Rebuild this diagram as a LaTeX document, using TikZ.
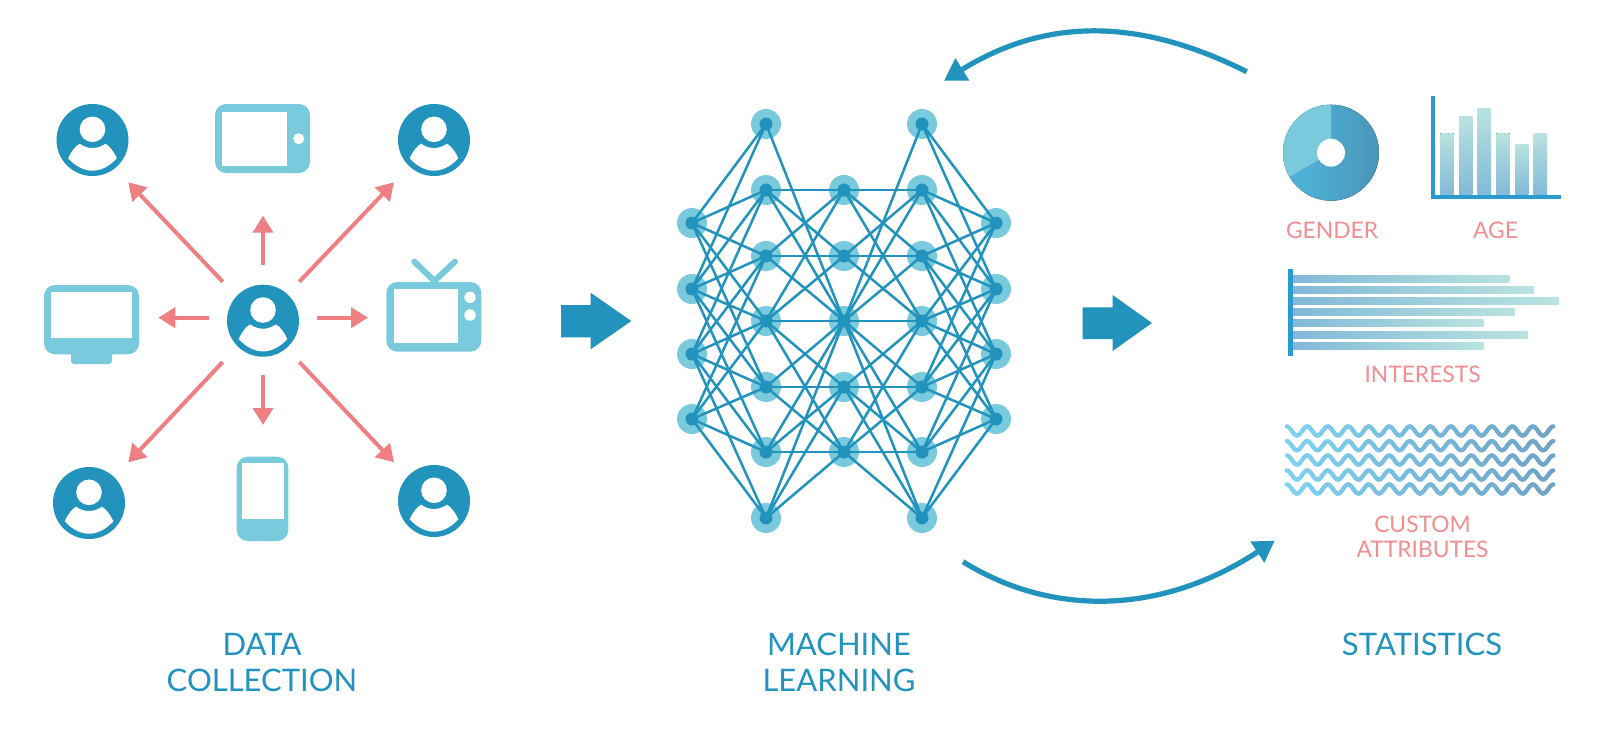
\documentclass[tikz,border=0pt]{standalone}
\usepackage{fontspec}
\setmainfont{Lato}
\usetikzlibrary{arrows.meta}
\definecolor{deep}{HTML}{2293BC}
\definecolor{soft}{HTML}{7ACADD}
\definecolor{pinkline}{HTML}{EE8083}
\definecolor{pinktext}{HTML}{F28E91}
\definecolor{axisblue}{HTML}{2A9BD0}
\definecolor{barlight}{HTML}{B8E3DF}
\definecolor{bardark}{HTML}{82B9D8}
\definecolor{waveleft}{HTML}{80D2F0}
\definecolor{waveright}{HTML}{6FA3C6}
\definecolor{donutleft}{HTML}{4DB8DC}
\definecolor{donutright}{HTML}{4A95B8}
\tikzset{
  x=0.5pt,y=-0.5pt,
  halo/.style={circle,fill=soft,inner sep=0pt,minimum size=15pt},
  core/.style={circle,fill=deep,inner sep=0pt,minimum size=6.5pt},
  link/.style={draw=deep,line width=1.25pt},
  pinkarrow/.style={draw=pinkline,line width=2pt,-{Triangle[length=8.5pt,width=10pt,fill=pinkline]}},
  bigcurve/.style={draw=deep,line width=2.6pt},
  mainlabel/.style={text=deep,align=center,inner sep=0pt,font=\fontsize{15.5}{18}\selectfont},
  sublabel/.style={text=pinktext,align=center,inner sep=0pt,font=\fontsize{11.4}{12.5}\selectfont},
  device/.style={fill=soft,rounded corners=5.5pt},
  screen/.style={fill=white},
  pics/person/.style={code={
    \fill[deep] (0,0) circle[radius=36];
    \fill[white] (0,-10.7) circle[radius=12.8];
    \fill[white] (-24.3,18.3) .. controls (-21,11) and (-17,6) .. (-13,3.7)
       .. controls (-8,7) and (-4,8) .. (0,8)
       .. controls (4,8) and (8,7) .. (13,3.7)
       .. controls (17,6) and (21,11) .. (24.3,18.3)
       .. controls (17,26.5) and (8,30.7) .. (0,30.7)
       .. controls (-8,30.7) and (-17,26.5) .. (-24.3,18.3) -- cycle;
  }},
}
\begin{document}
\begin{tikzpicture}
\useasboundingbox (0,0) rectangle (1600,728);
\fill[white] (0,0) rectangle (1600,728);

% people
\pic at (92.5,140) {person};
\pic at (434,140) {person};
\pic at (263,320.7) {person};
\pic at (89,503) {person};
\pic at (434,501) {person};

% tablet
\fill[device] (215,104) rectangle (310,173);
\fill[screen] (222.3,111.7) rectangle (287,166);
\fill[white] (298.7,138.7) circle[radius=5.5];
% monitor
\fill[soft,rounded corners=1.5pt] (71,345) rectangle (112,364);
\fill[device] (44,285) rectangle (139,354.3);
\fill[screen] (51.3,291.7) rectangle (131.7,338.3);
% tv
\draw[soft,line width=3pt,line cap=round] (414.3,261.7) -- (434.3,281) -- (455,261.7);
\fill[device] (386.3,282) rectangle (481.3,351.7);
\fill[screen] (393.7,289.3) rectangle (458.3,343.3);
\fill[white] (470,297.3) circle[radius=5.7];
\fill[white] (470,315) circle[radius=5.7];
% phone
\fill[device] (236.7,456.7) rectangle (288.3,541);
\fill[screen] (242,462.7) rectangle (283.7,518.7);

% pink arrows
\coordinate (hubUL) at (222.7,281.7); \coordinate (toUL) at (128.3,182.3);
\coordinate (hubU) at (263,265);      \coordinate (toU) at (263,215.7);
\coordinate (hubUR) at (299.3,281.7); \coordinate (toUR) at (394,182.3);
\coordinate (hubL) at (208.7,317.7);  \coordinate (toL) at (158.3,317.7);
\coordinate (hubR) at (317.3,317.7);  \coordinate (toR) at (368,317.7);
\coordinate (hubLL) at (222.7,362);   \coordinate (toLL) at (128.3,462.3);
\coordinate (hubD) at (263,374.7);    \coordinate (toD) at (263,425);
\coordinate (hubLR) at (299.3,362);   \coordinate (toLR) at (394,462.3);
\foreach \n in {UL,U,UR,L,R,LL,D,LR} \draw[pinkarrow] (hub\n) -- (to\n);

% big block arrows
\fill[deep] (561,305) -- (590.6,305) -- (590.6,292.7) -- (631.3,321) -- (590.6,349.3) -- (590.6,337.3) -- (561,337.3) -- cycle;
\fill[deep] (1082.5,307.3) -- (1112.6,307.3) -- (1112.6,295) -- (1152,323) -- (1112.6,351) -- (1112.6,339) -- (1082.5,339) -- cycle;

% network nodes
\foreach \i/\yy in {0/223,1/289,2/354,3/419} {
  \node[halo] (A\i) at (692,\yy) {};
  \node[halo] (E\i) at (996,\yy) {};
}
\foreach \i/\yy in {0/124,1/190,2/256,3/321,4/387,5/452,6/518} {
  \node[halo] (B\i) at (766,\yy) {};
  \node[halo] (D\i) at (922,\yy) {};
}
\foreach \i/\yy in {0/190,1/256,2/321,3/387,4/452} {
  \node[halo] (C\i) at (844,\yy) {};
}
% links, mirrored left and right
\foreach \a/\b in {0/0,0/1,0/2,0/3,0/4,1/0,1/1,1/2,1/3,1/4,1/5,2/1,2/2,2/3,2/4,2/5,2/6,3/2,3/3,3/4,3/5,3/6} {
  \draw[link] (A\a.center) -- (B\b.center);
  \draw[link] (E\a.center) -- (D\b.center);
}
\foreach \a/\b in {0/2,1/0,1/1,1/2,2/0,2/1,2/2,3/0,3/1,3/2,3/3,3/4,4/2,4/3,4/4,5/2,5/3,5/4,6/2,6/3,6/4} {
  \draw[link] (B\a.center) -- (C\b.center);
  \draw[link] (D\a.center) -- (C\b.center);
}
\foreach \n in {A0,A1,A2,A3,E0,E1,E2,E3,B0,B1,B2,B3,B4,B5,B6,D0,D1,D2,D3,D4,D5,D6,C0,C1,C2,C3,C4}
  \node[core] at (\n.center) {};

% feedback curves
\coordinate (fbStart) at (1246.7,71.7); \coordinate (fbEnd) at (944,80.7);
\draw[bigcurve,-{Triangle[length=10.8pt,width=12.5pt,fill=deep]}] (fbStart) .. controls (1138.7,17.5) and (1046,17.5) .. (fbEnd);
\coordinate (outStart) at (963,561.7); \coordinate (outEnd) at (1274.7,540.7);
\draw[bigcurve,-{Triangle[length=10.4pt,width=12pt,fill=deep]}] (outStart) .. controls (1050,616) and (1160,616) .. (outEnd);

% donut
\fill[left color=donutleft,right color=donutright] (1331,152.7) circle[radius=48];
\fill[soft] (1331,152.7) -- (1331,104.7) arc[start angle=-90,delta angle=-120,radius=48] -- cycle;
\fill[white] (1331,152.7) circle[radius=14];

% age bars
\foreach \xa/\xb/\ty in {1440.3/1453.7/133.3,1459/1472.3/116.7,1477.7/1491/108.7,1496.3/1509.7/133.3,1515/1528.3/144.3,1533.7/1547/133.3}
  \fill[top color=barlight,bottom color=bardark] (\xa,\ty) rectangle (\xb,194.3);
\draw[axisblue,line width=2.2pt] (1433,96) -- (1433,198.7);
\draw[axisblue,line width=2.2pt] (1431,196.7) -- (1560.7,196.7);

% interests bars
\foreach \yy/\xe in {279/1509.3,290/1534,301/1558.7,312.3/1515,323.3/1483.3,334.7/1527.3,345.7/1483.3}
  \fill[left color=bardark,right color=barlight] (1292,\yy-3.4) rectangle (\xe,\yy+3.4);
\fill[axisblue] (1287.7,269) rectangle (1292.7,355.7);

% waves
\foreach \yy in {431,445.7,460,475,489} {
  \foreach \i in {0,...,207} {
    \pgfmathsetmacro{\xa}{1286.7+1.282*\i}
    \pgfmathsetmacro{\xb}{1286.7+1.282*(\i+1)}
    \pgfmathsetmacro{\ya}{\yy-4.6*cos(22.5*\i)}
    \pgfmathsetmacro{\yb}{\yy-4.6*cos(22.5*(\i+1))}
    \pgfmathsetmacro{\mixv}{100-\i/207*100}
    \draw[color=waveleft!\mixv!waveright,line width=2.1pt,line cap=round] (\xa,\ya) -- (\xb,\yb);
  }
}

% labels
\node[mainlabel] (dataLabel) at (262,662.5) {DATA\hspace{3pt}\\COLLECTION};
\node[mainlabel] (mlLabel) at (839,662.5) {MACHINE\\LEARNING};
\node[mainlabel] (statLabel) at (1422,644) {STATISTICS};
\node[sublabel] (genderLabel) at (1332,230) {GENDER};
\node[sublabel] (ageLabel) at (1495.5,230) {AGE};
\node[sublabel] (interestsLabel) at (1422.5,374) {INTERESTS};
\node[sublabel] (customLabel) at (1422.5,536.5) {CUSTOM\\ATTRIBUTES};
\end{tikzpicture}
\end{document}
